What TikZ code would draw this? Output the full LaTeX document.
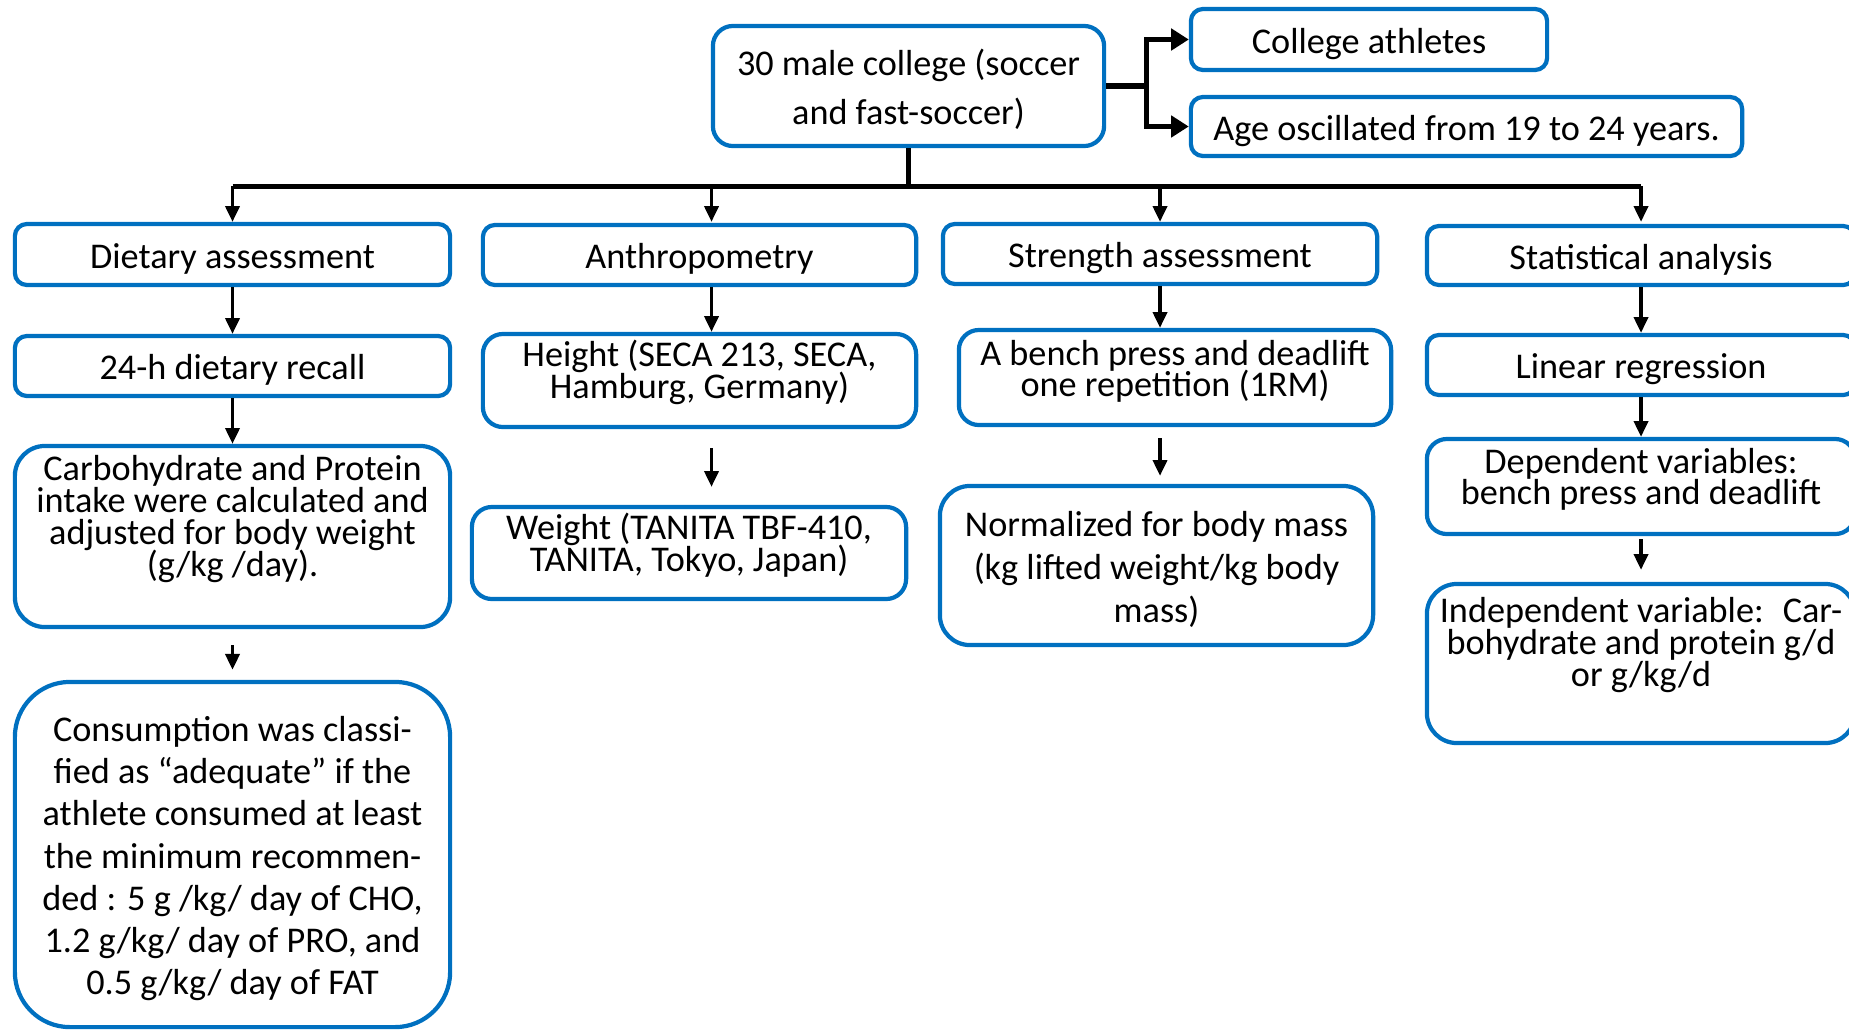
\documentclass[tikz,border=0pt]{standalone}
\usepackage{fontspec}
\setmainfont{Carlito}
\usepackage{xcolor}
\usetikzlibrary{arrows.meta,positioning,calc}
\definecolor{boxblue}{RGB}{0,112,192}
\newcommand{\padbelow}[1]{\rule[-#1]{0pt}{0pt}}
\newcommand{\padabove}{\rule{0pt}{9.5pt}}
\newcommand{\linesat}[1]{\fontsize{10.3pt}{#1}\selectfont\lineskiplimit=-20pt}

\begin{document}
\begin{tikzpicture}[x=0.01cm, y=-0.01cm,
    box/.style={draw=boxblue, line width=1.2pt, rounded corners=0.12cm, align=center, inner sep=0pt, font={\linesat{12pt}}},
    link/.style={-{Triangle[width=4pt,length=4.5pt]}, line width=1pt},
    fork/.style={-{Triangle[width=6pt,length=5pt]}, line width=1.5pt},
    bus/.style={line width=1.4pt}]
    \useasboundingbox (0,0) rectangle (1849,1030);

    % sample and its description
    \node [box, minimum width=3.91cm, minimum height=1.20cm, rounded corners=0.2cm, font={\linesat{14.1pt}}] (sample) at (908.5,86) {\padabove 30 male college (soccer\\and fast-soccer)};
    \node [box, minimum width=3.56cm, minimum height=0.61cm] (athletes) at (1369,39.5) {\padabove College athletes};
    \node [box, minimum width=5.51cm, minimum height=0.59cm] (age) at (1466.5,126.5) {\padabove Age oscillated from 19 to 24 years.};

    % dietary column
    \node [box, minimum width=4.35cm, minimum height=0.61cm] (diet) at (232.5,254.5) {\padabove Dietary assessment};
    \node [box, minimum width=4.35cm, minimum height=0.60cm] (recall) at (232.5,366) {\padabove 24-h dietary recall};
    \node [box, minimum width=4.35cm, minimum height=1.81cm, rounded corners=0.3cm, font={\linesat{9.1pt}}] (intake) at (232.5,536.5) {Carbohydrate and Protein\\intake were calculated and\\adjusted for body weight\\(g/kg /day).\padbelow{11.7pt}};
    \node [box, minimum width=4.35cm, minimum height=3.45cm, rounded corners=0.55cm, font={\linesat{12pt}}] (adequate) at (232.5,854.5) {\padabove Consumption was classi-\\fied as “adequate” if the\\athlete consumed at least\\the minimum recommen-\\ded : 5 g /kg/ day of CHO,\\1.2 g/kg/ day of PRO, and\\0.5 g/kg/ day of FAT};

    % anthropometry column
    \node [box, minimum width=4.33cm, minimum height=0.60cm] (anthro) at (699.5,255) {\padabove Anthropometry};
    \node [box, minimum width=4.33cm, minimum height=0.93cm, rounded corners=0.2cm, font={\linesat{9.1pt}}] (height) at (699.5,380.5) {Height (SECA 213, SECA,\\Hamburg, Germany)\padbelow{6.3pt}};
    \node [box, minimum width=4.34cm, minimum height=0.92cm, rounded corners=0.2cm, font={\linesat{9.1pt}}] (weight) at (689,553) {Weight (TANITA TBF-410,\\TANITA, Tokyo, Japan)\padbelow{6.3pt}};

    % strength column
    \node [box, minimum width=4.34cm, minimum height=0.60cm] (strength) at (1160,254) {\padabove Strength assessment};
    \node [box, minimum width=4.32cm, minimum height=0.95cm, rounded corners=0.2cm, font={\linesat{8.8pt}}] (bench) at (1175,377.5) {A bench press and deadlift\\one repetition (1RM)\padbelow{5.4pt}};
    \node [box, minimum width=4.33cm, minimum height=1.59cm, rounded corners=0.3cm, font={\linesat{12.2pt}}] (normalized) at (1156.5,565.5) {\padabove Normalized for body mass\\(kg lifted weight/kg body\\mass)};

    % statistics column
    \node [box, minimum width=4.28cm, minimum height=0.59cm] (stats) at (1641,255.5) {\padabove Statistical analysis};
    \node [box, minimum width=4.28cm, minimum height=0.60cm] (regression) at (1641,365) {\padabove Linear regression};
    \node [box, minimum width=4.28cm, minimum height=0.95cm, rounded corners=0.2cm, font={\linesat{8.8pt}}] (dependent) at (1641,486.5) {Dependent variables:\\bench press and deadlift\padbelow{5.7pt}};
    \node [box, minimum width=4.28cm, minimum height=1.59cm, rounded corners=0.3cm, font={\linesat{9.1pt}}] (independent) at (1641,663.5) {Independent variable:~ Car-\\bohydrate and protein g/d\\or g/kg/d\padbelow{12.3pt}};

    % fork to the right
    \coordinate (split) at ($(sample.east)+(40,0)$);
    \draw [line width=1.8pt] (sample.east) -- (split);
    \draw [fork] (split) |- (athletes.west);
    \draw [fork] (split) |- (age.west);

    % bus to the four columns
    \coordinate (hub) at ($(sample.south)+(0,38)$);
    \coordinate (anthroline) at ($(anthro.north)+(12,0)$);
    \draw [bus] (sample.south) -- (hub);
    \draw [bus] (diet.north |- hub) -- (stats.north |- hub);
    \foreach \col in {diet, anthroline, strength, stats}
        \draw [link] (\col.north |- hub) -- (\col.north |- diet.north);

    \draw [link] (diet) -- (recall);
    \draw [link] (recall) -- (intake);
    \draw [link, shorten <=0.16cm, shorten >=0.10cm] (intake) -- (adequate);

    \draw [link] (anthroline |- anthro.south) -- (anthroline |- height.north);
    \draw [link, shorten <=0.19cm, shorten >=0.18cm] (anthroline |- height.south) -- (anthroline |- weight.north);

    \draw [link] (strength.south) -- (strength.south |- bench.north);
    \draw [link, shorten <=0.11cm, shorten >=0.08cm] (bench.south -| strength) -- (normalized.north -| strength);

    \draw [link] (stats) -- (regression);
    \draw [link] (regression) -- (dependent);
    \draw [link, shorten <=0.03cm, shorten >=0.12cm] (dependent) -- (independent);
\end{tikzpicture}
\end{document}
